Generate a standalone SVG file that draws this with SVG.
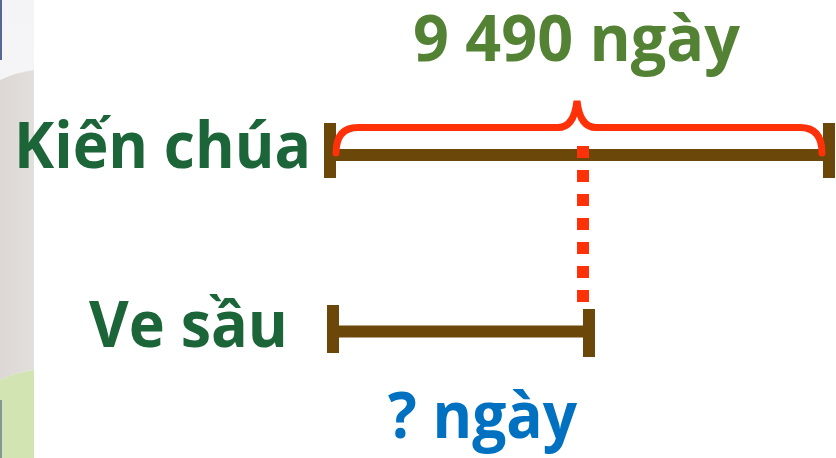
<svg xmlns="http://www.w3.org/2000/svg" width="836" height="458" viewBox="0 0 836 458">
<defs>
<linearGradient id="topg" x1="0" y1="0" x2="0" y2="1">
<stop offset="0" stop-color="#f4f4f6"/>
<stop offset="1" stop-color="#fbfbfb"/>
</linearGradient>
<linearGradient id="greyg" x1="0" y1="0" x2="1" y2="0">
<stop offset="0" stop-color="#dcd7d4"/>
<stop offset="1" stop-color="#e3dfdc"/>
</linearGradient>
</defs>
<style>
.lbl{font-family:"Open Sans",Lato,"Liberation Sans",sans-serif;font-weight:bold;font-size:64px}
.green{fill:#1b6538}
.olive{fill:#548235}
.blue{fill:#0070c0}
.bar{stroke:#6b4709;stroke-width:12;fill:none}
.brace{stroke:#ff3108;stroke-width:7;fill:none;stroke-linecap:round}
.dots{stroke:#ff3108;stroke-width:12;stroke-dasharray:12 12;fill:none}
</style>
<rect width="836" height="458" fill="#ffffff"/>
<g id="background-strip">
<rect x="0" y="0" width="34" height="458" fill="url(#topg)"/>
<path d="M0 80 Q17 72 34 70 L34 370 Q17 372 0 380 Z" fill="url(#greyg)"/>
<path d="M0 380 Q17 372 34 370 L34 458 L0 458 Z" fill="#d3e4b3"/>
<path d="M1 0 L1 60" stroke="#1f3a78" stroke-width="1.5"/>
<path d="M1 400 L1 458" stroke="#1f3a78" stroke-width="1.5" opacity="0.6"/>
</g>
<g id="label-total">
<text class="lbl olive" x="413" y="61" font-size="62" textLength="327" lengthAdjust="spacingAndGlyphs">9 490 ngày</text>
</g>
<g id="label-kien">
<text class="lbl green" x="14" y="168" textLength="297" lengthAdjust="spacingAndGlyphs">Kiến chúa</text>
</g>
<g id="label-ve">
<text class="lbl green" x="89" y="347" font-size="65" textLength="199" lengthAdjust="spacingAndGlyphs">Ve sầu</text>
</g>
<g id="label-unknown">
<text class="lbl blue" x="388" y="438" font-size="63" textLength="189" lengthAdjust="spacingAndGlyphs">? ngày</text>
</g>
<g id="connectors">
<g id="bar-kien">
<path class="bar" d="M330 155 L829 155"/>
<path class="bar" d="M330 123 L330 178"/>
<path class="bar" d="M829 123 L829 178"/>
</g>
<g id="bar-ve">
<path class="bar" d="M333 331.5 L589 331.5"/>
<path class="bar" d="M333 305 L333 353"/>
<path class="bar" d="M589 309 L589 357"/>
</g>
<path id="brace" class="brace" d="M336 153 Q336 127.5 358 127.5 L558 127.5 Q574 127.5 577 101 Q580 127.5 596 127.5 L800 127.5 Q822 127.5 822 153"/>
<path id="dotted" class="dots" d="M583 146 L583 302"/>
</g>
</svg>
